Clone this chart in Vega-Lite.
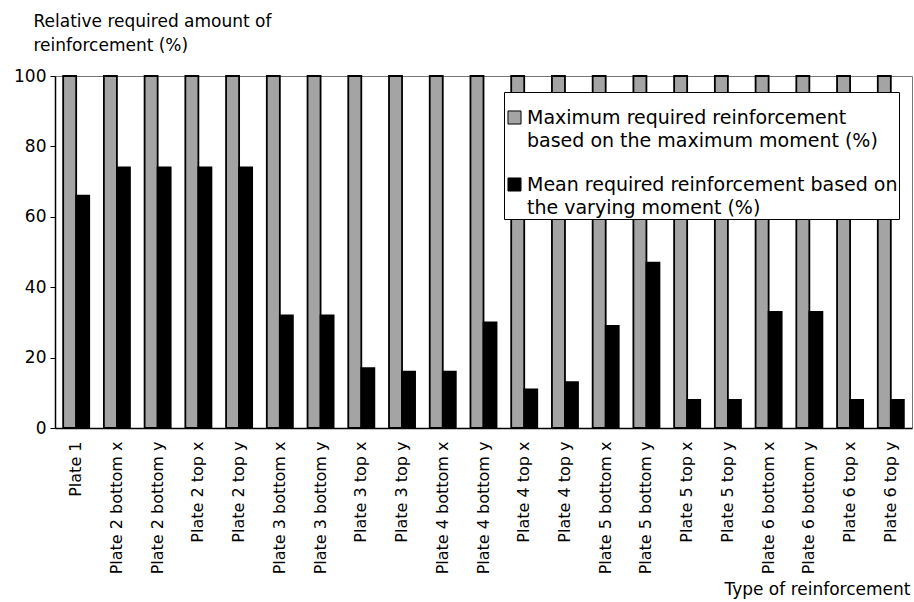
{
  "$schema": "https://vega.github.io/schema/vega-lite/v6.json",
  "width": 857,
  "height": 352,
  "autosize": "none",
  "padding": {"left": 55, "top": 76, "right": 2, "bottom": 174},
  "background": "white",
  "config": {
    "font": "DejaVu Sans",
    "view": {"stroke": "#777", "strokeWidth": 1},
    "style": {"guide-label": {"lineHeight": 23}}
  },
  "data": {
    "values": [
      {"type": "Plate 1", "series": "Maximum", "value": 100},
      {"type": "Plate 1", "series": "Mean", "value": 66},
      {"type": "Plate 2 bottom x", "series": "Maximum", "value": 100},
      {"type": "Plate 2 bottom x", "series": "Mean", "value": 74},
      {"type": "Plate 2 bottom y", "series": "Maximum", "value": 100},
      {"type": "Plate 2 bottom y", "series": "Mean", "value": 74},
      {"type": "Plate 2 top x", "series": "Maximum", "value": 100},
      {"type": "Plate 2 top x", "series": "Mean", "value": 74},
      {"type": "Plate 2 top y", "series": "Maximum", "value": 100},
      {"type": "Plate 2 top y", "series": "Mean", "value": 74},
      {"type": "Plate 3 bottom x", "series": "Maximum", "value": 100},
      {"type": "Plate 3 bottom x", "series": "Mean", "value": 32},
      {"type": "Plate 3 bottom y", "series": "Maximum", "value": 100},
      {"type": "Plate 3 bottom y", "series": "Mean", "value": 32},
      {"type": "Plate 3 top x", "series": "Maximum", "value": 100},
      {"type": "Plate 3 top x", "series": "Mean", "value": 17},
      {"type": "Plate 3 top y", "series": "Maximum", "value": 100},
      {"type": "Plate 3 top y", "series": "Mean", "value": 16},
      {"type": "Plate 4 bottom x", "series": "Maximum", "value": 100},
      {"type": "Plate 4 bottom x", "series": "Mean", "value": 16},
      {"type": "Plate 4 bottom y", "series": "Maximum", "value": 100},
      {"type": "Plate 4 bottom y", "series": "Mean", "value": 30},
      {"type": "Plate 4 top x", "series": "Maximum", "value": 100},
      {"type": "Plate 4 top x", "series": "Mean", "value": 11},
      {"type": "Plate 4 top y", "series": "Maximum", "value": 100},
      {"type": "Plate 4 top y", "series": "Mean", "value": 13},
      {"type": "Plate 5 bottom x", "series": "Maximum", "value": 100},
      {"type": "Plate 5 bottom x", "series": "Mean", "value": 29},
      {"type": "Plate 5 bottom y", "series": "Maximum", "value": 100},
      {"type": "Plate 5 bottom y", "series": "Mean", "value": 47},
      {"type": "Plate 5 top x", "series": "Maximum", "value": 100},
      {"type": "Plate 5 top x", "series": "Mean", "value": 8},
      {"type": "Plate 5 top y", "series": "Maximum", "value": 100},
      {"type": "Plate 5 top y", "series": "Mean", "value": 8},
      {"type": "Plate 6 bottom x", "series": "Maximum", "value": 100},
      {"type": "Plate 6 bottom x", "series": "Mean", "value": 33},
      {"type": "Plate 6 bottom y", "series": "Maximum", "value": 100},
      {"type": "Plate 6 bottom y", "series": "Mean", "value": 33},
      {"type": "Plate 6 top x", "series": "Maximum", "value": 100},
      {"type": "Plate 6 top x", "series": "Mean", "value": 8},
      {"type": "Plate 6 top y", "series": "Maximum", "value": 100},
      {"type": "Plate 6 top y", "series": "Mean", "value": 8}
    ]
  },
  "mark": {"type": "bar", "stroke": "black", "strokeWidth": 1.8},
  "encoding": {
    "x": {
      "field": "type",
      "type": "nominal",
      "sort": null,
      "scale": {"paddingInner": 0.36, "paddingOuter": 0.2},
      "axis": {
        "title": "Type of reinforcement",
        "titleFontSize": 17,
        "titleFontWeight": "normal",
        "titleColor": "black",
        "titleAnchor": "end",
        "titleAlign": "right",
        "titleX": 855,
        "titleY": 166,
        "titleBaseline": "alphabetic",
        "labelAngle": -90,
        "labelFontSize": 16,
        "labelColor": "black",
        "labelPadding": 13,
        "labelLimit": 300,
        "ticks": false,
        "domainColor": "black",
        "domainWidth": 1.5
      }
    },
    "xOffset": {
      "field": "series",
      "type": "nominal",
      "scale": {"domain": ["Maximum", "Mean"]}
    },
    "y": {
      "field": "value",
      "type": "quantitative",
      "scale": {"domain": [0, 100]},
      "axis": {
        "values": [0, 20, 40, 60, 80, 100],
        "grid": false,
        "title": ["Relative required amount of", "reinforcement (%)"],
        "titleFontSize": 17,
        "titleFontWeight": "normal",
        "titleColor": "black",
        "titleAngle": 0,
        "titleAlign": "left",
        "titleBaseline": "alphabetic",
        "titleLineHeight": 24,
        "titleX": -22,
        "titleY": -50,
        "labelFontSize": 17,
        "labelColor": "black",
        "labelPadding": 4,
        "tickSize": 5,
        "tickColor": "black",
        "domainColor": "black",
        "domainWidth": 1.5
      }
    },
    "color": {
      "field": "series",
      "type": "nominal",
      "scale": {"domain": ["Maximum", "Mean"], "range": ["#a4a4a4", "#000000"]},
      "legend": {
        "title": " ",
        "titleFontSize": 6,
        "titlePadding": 9,
        "orient": "none",
        "legendX": 449,
        "legendY": 16,
        "fillColor": "white",
        "strokeColor": "black",
        "padding": 1,
        "symbolType": "square",
        "symbolSize": 170,
        "symbolStrokeColor": "black",
        "symbolStrokeWidth": 1,
        "labelFontSize": 19,
        "labelColor": "black",
        "labelLimit": 420,
        "labelOffset": 3,
        "rowPadding": 24,
        "labelExpr": "datum.label == 'Maximum' ? ['Maximum required reinforcement', 'based on the maximum moment (%)'] : ['Mean required reinforcement based on', 'the varying moment (%)']"
      }
    }
  }
}
